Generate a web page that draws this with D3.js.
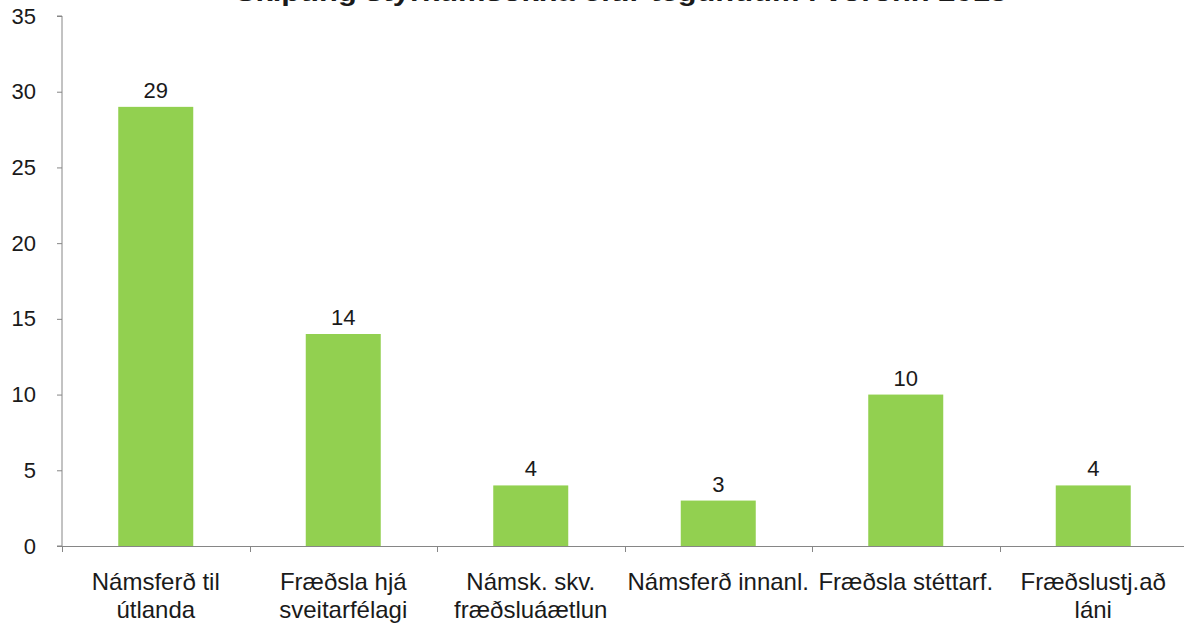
<!DOCTYPE html>
<html>
<head>
<meta charset="utf-8">
<script src="https://cdn.jsdelivr.net/npm/d3@7"></script>
<style>
  body { margin: 0; background: #fff; }
  svg { display: block; font-family: "Liberation Sans", Arial, sans-serif; }
</style>
</head>
<body>
<div id="chart"></div>
<script>
// gögn lesin af myndinni
let flokkar = [
    ['Námsferð til', 'útlanda'],
    ['Fræðsla hjá', 'sveitarfélagi'],
    ['Námsk. skv.', 'fræðsluáætlun'],
    ['Námsferð innanl.'],
    ['Fræðsla stéttarf.'],
    ['Fræðslustj.að', 'láni'],
]
let gildi = [29, 14, 4, 3, 10, 4]
let y_ticks = [0, 5, 10, 15, 20, 25, 30, 35]
let titill = 'Skipting styrkumsókna eftir tegundum í vorönn 2013'

let width = 1184
let height = 624
let left = 62
let right = 1187
let top_y = 16
let bottom_y = 546

let svg = d3.select('#chart')
    .append('svg')
    .attr('width', width)
    .attr('height', height)

// kvarðar
let x_scale = d3.scaleBand()
    .domain(d3.range(flokkar.length))
    .range([left, right])
    .padding(0)

let y_scale = d3.scaleLinear()
    .domain([0, 35])
    .range([bottom_y, top_y])

let bar_w = x_scale.bandwidth() * 0.4

// titill (skorinn af efst eins og á fyrirmyndinni)
svg.append('text')
    .attr('x', 621)
    .attr('y', 1)
    .attr('text-anchor', 'middle')
    .attr('font-size', 26)
    .attr('font-weight', 'bold')
    .attr('fill', '#1a1a1a')
    .attr('textLength', 772)
    .attr('lengthAdjust', 'spacingAndGlyphs')
    .text(titill)

// y-ás
let y_axis = d3.axisLeft(y_scale)
    .tickValues(y_ticks)
    .tickSize(5)
    .tickPadding(21)
svg.append('g')
    .attr('class', 'y-axis')
    .attr('transform', 'translate(' + left + ',0)')
    .call(y_axis)
    .call(g => g.select('.domain').attr('stroke', '#868686').attr('d', 'M-5,' + top_y + 'H0V' + bottom_y + 'H-5'))
    .call(g => g.selectAll('.tick line').attr('stroke', '#868686'))
    .call(g => g.selectAll('.tick text').attr('font-size', 22).attr('fill', '#1a1a1a').attr('font-family', '"Liberation Sans", Arial, sans-serif'))

// x-ás
svg.append('line')
    .attr('x1', left).attr('x2', right)
    .attr('y1', bottom_y + 0.5).attr('y2', bottom_y + 0.5)
    .attr('stroke', '#868686')

svg.append('g').selectAll('line')
    .data(d3.range(flokkar.length + 1))
    .enter()
    .append('line')
    .attr('x1', d => Math.round(left + d * x_scale.step()) + 0.5)
    .attr('x2', d => Math.round(left + d * x_scale.step()) + 0.5)
    .attr('y1', bottom_y)
    .attr('y2', bottom_y + 6)
    .attr('stroke', '#868686')

// súlur
svg.append('g').selectAll('rect')
    .data(gildi)
    .enter()
    .append('rect')
    .attr('x', (d, i) => x_scale(i) + x_scale.bandwidth() / 2 - bar_w / 2)
    .attr('y', d => y_scale(d))
    .attr('width', bar_w)
    .attr('height', d => bottom_y - y_scale(d))
    .attr('fill', '#92D050')

// gildismerki
svg.append('g').selectAll('text')
    .data(gildi)
    .enter()
    .append('text')
    .attr('x', (d, i) => x_scale(i) + x_scale.bandwidth() / 2)
    .attr('y', d => y_scale(d) - 9)
    .attr('text-anchor', 'middle')
    .attr('font-size', 22)
    .attr('fill', '#1a1a1a')
    .text(d => d)

// flokkaheiti
let labels = svg.append('g').selectAll('text')
    .data(flokkar)
    .enter()
    .append('text')
    .attr('x', (d, i) => x_scale(i) + x_scale.bandwidth() / 2)
    .attr('y', 590)
    .attr('text-anchor', 'middle')
    .attr('font-size', 24)
    .attr('fill', '#1a1a1a')

labels.selectAll('tspan')
    .data(d => d)
    .enter()
    .append('tspan')
    .attr('x', function () { return d3.select(this.parentNode).attr('x') })
    .attr('dy', (d, i) => i === 0 ? 0 : 28)
    .text(d => d)
</script>
</body>
</html>
